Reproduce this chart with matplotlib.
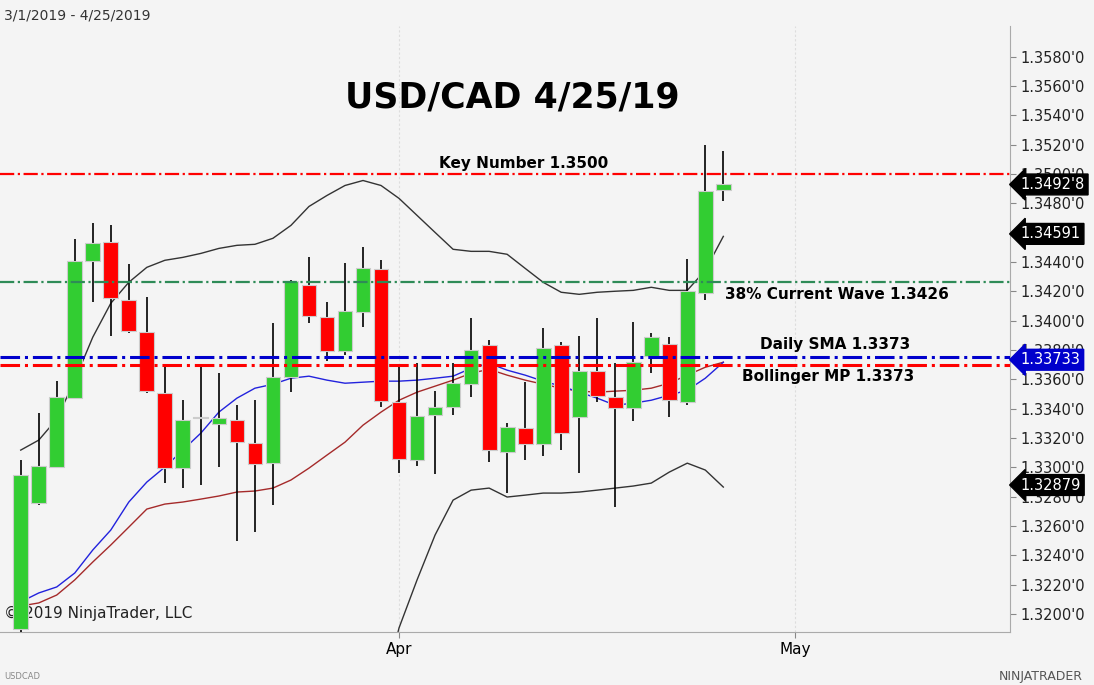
import matplotlib
matplotlib.use("Agg")
import matplotlib.pyplot as plt
import numpy as np
from matplotlib.patches import Rectangle

opens = [1.3190,1.32756,1.33001,1.33471,1.34404,1.34534,1.34139,1.33920,1.33505,1.32994,
         1.33338,1.33294,1.33321,1.33165,1.33028,1.33614,1.34241,1.34023,1.33791,1.34057,
         1.34350,1.33444,1.33049,1.33355,1.33410,1.33566,1.33832,1.33103,1.33267,1.33158,
         1.33832,1.33342,1.33655,1.33478,1.33403,1.33757,1.33839,1.33444,1.34186,1.34888]
highs = [1.33049,1.33369,1.33587,1.34554,1.34663,1.34649,1.34384,1.34159,1.33696,1.33458,
         1.33703,1.33641,1.33423,1.33458,1.33982,1.34275,1.34432,1.34125,1.34391,1.34500,
         1.34411,1.33696,1.33709,1.33519,1.33709,1.34016,1.33866,1.33301,1.33580,1.33948,
         1.33852,1.33893,1.34016,1.33709,1.33989,1.33914,1.33886,1.34418,1.35194,1.35153]
lows = [1.3185,1.32742,1.32994,1.33465,1.34125,1.33893,1.33914,1.33505,1.32892,1.32858,
        1.32878,1.33001,1.32497,1.32558,1.32742,1.33512,1.33982,1.33723,1.33764,1.33955,
        1.33410,1.32960,1.33008,1.32953,1.33355,1.33478,1.33035,1.32824,1.33049,1.33076,
        1.33117,1.32960,1.33444,1.32729,1.33314,1.33641,1.33342,1.33423,1.34139,1.34813]
closes = [1.32947,1.33008,1.33478,1.34404,1.34527,1.34152,1.33927,1.33519,1.32994,1.33321,
          1.33342,1.33335,1.33171,1.33022,1.33614,1.34268,1.34030,1.33791,1.34064,1.34357,
          1.33451,1.33056,1.33348,1.33410,1.33573,1.33798,1.33117,1.33274,1.33158,1.33812,
          1.33233,1.33655,1.33485,1.33403,1.33716,1.33886,1.33457,1.34200,1.34881,1.34928]
bb_upper = [1.33117,1.33185,1.33328,1.33594,1.33887,1.34118,1.34261,1.34363,1.34411,1.34431,
            1.34458,1.34492,1.34513,1.34520,1.34561,1.34649,1.34778,1.34853,1.34921,1.34955,
            1.34921,1.34833,1.34717,1.34601,1.34486,1.34472,1.34472,1.34452,1.34356,1.34261,
            1.34193,1.34179,1.34193,1.34200,1.34206,1.34227,1.34206,1.34206,1.34343,1.34574]
bb_lower = [np.nan]*20 + [1.31414,1.31905,1.32232,1.32538,1.32776,1.32844,1.32858,1.32797,1.32810,1.32824,
            1.32824,1.32831,1.32844,1.32858,1.32872,1.32892,1.32967,1.33028,1.32981,1.32865]
blue_ma = [1.32082,1.32143,1.32184,1.32279,1.32436,1.32572,1.32763,1.32899,1.33001,1.33117,
           1.33233,1.33376,1.33471,1.33539,1.33566,1.33607,1.33621,1.33594,1.33573,1.33580,
           1.33587,1.33587,1.33594,1.33607,1.33621,1.33675,1.33709,1.33662,1.33628,1.33587,
           1.33553,1.33512,1.33471,1.33423,1.33437,1.33457,1.33491,1.33525,1.33607,1.33716]
red_ma = [1.32054,1.32075,1.32129,1.32232,1.32354,1.32470,1.32592,1.32715,1.32749,1.32763,
          1.32783,1.32804,1.32831,1.32838,1.32858,1.32913,1.32994,1.33083,1.33171,1.33287,
          1.33376,1.33457,1.33512,1.33553,1.33594,1.33641,1.33668,1.33628,1.33594,1.33566,
          1.33539,1.33519,1.33512,1.33519,1.33525,1.33539,1.33573,1.33628,1.33682,1.33716]
month_ticks = [21, 43]
month_labels = ["Apr", "May"]
key_level = 1.3500
wave_level = 1.3426
sma_level = 1.33755
bmp_level = 1.33700

bg = "#f4f4f4"
fig = plt.figure(figsize=(10.94, 6.85), dpi=100, facecolor=bg)
ax = fig.add_axes([0.0, 0.0774, 0.923, 0.885], facecolor=bg)
n = len(opens)
x = np.arange(n)
ax.set_xlim(-1.15, 54.9)
ax.set_ylim(1.31877, 1.3601)

for xv in month_ticks:
    ax.axvline(xv, color="#dddddd", lw=0.8, ls=(0, (2, 2)), zorder=0)

ax.plot(x, bb_upper, color="#333333", lw=1, zorder=2)
ax.plot(x, bb_lower, color="#333333", lw=1, zorder=2)
ax.plot(x, red_ma, color="#a52a2a", lw=1, zorder=2)
ax.plot(x, blue_ma, color="#2222dd", lw=1, zorder=2)

w = 0.82
for i in range(n):
    o, h, l, c = opens[i], highs[i], lows[i], closes[i]
    ax.vlines(i, l, h, color="black", lw=1.2, zorder=3)
    col = "#32cd32" if c >= o else "#ff0000"
    lo, hi = min(o, c), max(o, c)
    ax.add_patch(Rectangle((i - w / 2, lo), w, max(hi - lo, 0.00004), facecolor=col,
                           edgecolor="#cccccc", lw=0.8, zorder=4))

ax.axhline(key_level, color="#ff0000", lw=1.6, ls="-.", zorder=5)
ax.axhline(wave_level, color="#2e8b57", lw=1.6, ls="-.", zorder=5)
ax.axhline(sma_level, color="#0000cc", lw=2.2, ls="-.", zorder=5)
ax.axhline(bmp_level, color="#ff0000", lw=2.2, ls="-.", zorder=5)

fs = 11
ax.text(27.9, key_level + 0.0002, "Key Number 1.3500", ha="center", va="bottom", fontsize=fs, fontweight="bold")
ax.text(39.1, wave_level - 0.0003, "38% Current Wave 1.3426", ha="left", va="top", fontsize=fs, fontweight="bold")
ax.text(45.2, sma_level + 0.0003, "Daily SMA 1.3373", ha="center", va="bottom", fontsize=fs, fontweight="bold")
ax.text(44.8, bmp_level - 0.0003, "Bollinger MP 1.3373", ha="center", va="top", fontsize=fs, fontweight="bold")

fig.text(0.468, 0.858, "USD/CAD 4/25/19", ha="center", va="center", fontsize=25, fontweight="bold")
fig.text(0.004, 0.977, "3/1/2019 - 4/25/2019", ha="left", va="center", fontsize=10, color="#333333")
ax.text(0.004, 0.03, "© 2019 NinjaTrader, LLC", transform=ax.transAxes, ha="left", va="center", fontsize=11, color="#222222")
fig.text(0.004, 0.012, "USDCAD", ha="left", va="center", fontsize=6, color="#888888")
fig.text(0.99, 0.012, "NINJATRADER", ha="right", va="center", fontsize=9, color="#555555")

ticks = np.round(np.arange(1.3200, 1.35801, 0.002), 4)
ax.yaxis.tick_right()
ax.set_yticks(ticks)
ax.set_yticklabels([f"{t:.4f}'0" for t in ticks], fontsize=10.5, color="#222222")
ax.tick_params(axis="y", length=4, color="#888888")
ax.set_xticks(month_ticks)
ax.set_xticklabels(month_labels, fontsize=11)
ax.tick_params(axis="x", length=4, color="#888888")
for s in ["top", "left"]:
    ax.spines[s].set_visible(False)
ax.spines["right"].set_color("#aaaaaa")
ax.spines["bottom"].set_color("#aaaaaa")

def tag(val, text, fc):
    ax.annotate(text, xy=(1.0, val), xycoords=("axes fraction", "data"), xytext=(8, 0),
                textcoords="offset points", ha="left", va="center", fontsize=10.5, color="white",
                bbox=dict(boxstyle="larrow,pad=0.2", fc=fc, ec=fc), annotation_clip=False)

tag(1.34928, "1.3492'8", "black")
tag(1.34591, "1.34591", "black")
tag(1.33733, "1.33733", "#0000cc")
tag(1.32879, "1.32879", "black")

fig.savefig("out.png", dpi=100, facecolor=bg)
